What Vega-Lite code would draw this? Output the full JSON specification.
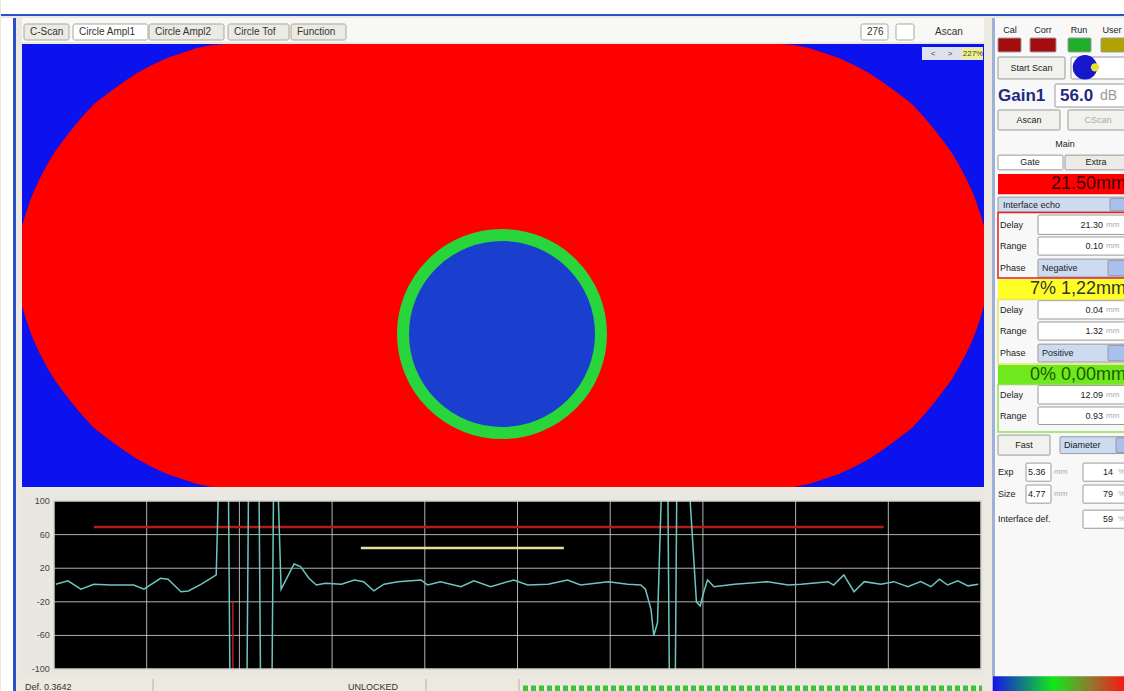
{
  "$schema": "https://vega.github.io/schema/vega-lite/v6.json",
  "background": "#ebe9e2",
  "padding": 0,
  "spacing": 0,
  "config": {"view": {"stroke": null}, "font": "Liberation Sans"},
  "resolve": {"scale": {"fill": "independent", "stroke": "independent", "color": "independent"}},
  "datasets": {
    "stadium": [{"u":0,"top":182,"bottom":262},{"u":4,"top":169,"bottom":275},{"u":8,"top":157,"bottom":287},{"u":12,"top":147,"bottom":297},{"u":18,"top":134,"bottom":310},{"u":25,"top":121,"bottom":323},{"u":32,"top":109,"bottom":335},{"u":40,"top":98,"bottom":346},{"u":50,"top":85,"bottom":359},{"u":60,"top":73,"bottom":371},{"u":72,"top":60,"bottom":384},{"u":85,"top":50,"bottom":394},{"u":100,"top":39,"bottom":405},{"u":115,"top":29,"bottom":415},{"u":130,"top":21,"bottom":423},{"u":145,"top":14,"bottom":430},{"u":160,"top":9,"bottom":435},{"u":175,"top":4,"bottom":440},{"u":190,"top":1,"bottom":443},{"u":205,"top":0,"bottom":443},{"u":757,"top":0,"bottom":443},{"u":772,"top":1,"bottom":443},{"u":787,"top":4,"bottom":440},{"u":802,"top":9,"bottom":435},{"u":817,"top":14,"bottom":430},{"u":832,"top":21,"bottom":423},{"u":847,"top":29,"bottom":415},{"u":862,"top":39,"bottom":405},{"u":877,"top":50,"bottom":394},{"u":890,"top":60,"bottom":384},{"u":902,"top":73,"bottom":371},{"u":912,"top":85,"bottom":359},{"u":922,"top":98,"bottom":346},{"u":930,"top":109,"bottom":335},{"u":937,"top":121,"bottom":323},{"u":944,"top":134,"bottom":310},{"u":950,"top":147,"bottom":297},{"u":954,"top":157,"bottom":287},{"u":958,"top":169,"bottom":275},{"u":962,"top":182,"bottom":262}],
    "flaw": [{"u":480,"v":290}],
    "widget": [{"part":"frame","u0":900,"u1":961,"v0":3,"v1":16},{"part":"zoom","u0":940,"u1":961,"v0":4,"v1":15}],
    "widgetText": [{"label":"<","u":911,"v":9.5},{"label":">","u":928,"v":9.5},{"label":"227%","u":951,"v":9.5}],
    "ascan": [{"t":2,"a":1},{"t":15,"a":5},{"t":29,"a":-5},{"t":43,"a":1},{"t":61,"a":0},{"t":86,"a":0},{"t":97,"a":-5},{"t":115,"a":8},{"t":123,"a":7},{"t":137,"a":-8},{"t":145,"a":-7},{"t":159,"a":1},{"t":169,"a":8},{"t":175,"a":12},{"t":178,"a":140},{"t":188,"a":140},{"t":190,"a":-140},{"t":208,"a":-140},{"t":210,"a":140},{"t":221,"a":140},{"t":223,"a":-140},{"t":235,"a":-140},{"t":237,"a":140},{"t":241,"a":140},{"t":245,"a":-5},{"t":252,"a":10},{"t":259,"a":25},{"t":266,"a":22},{"t":275,"a":8},{"t":283,"a":0},{"t":293,"a":2},{"t":310,"a":1},{"t":324,"a":6},{"t":334,"a":4},{"t":345,"a":-7},{"t":356,"a":1},{"t":371,"a":4},{"t":396,"a":6},{"t":403,"a":0},{"t":417,"a":4},{"t":439,"a":-2},{"t":453,"a":5},{"t":471,"a":-2},{"t":496,"a":6},{"t":511,"a":0},{"t":533,"a":1},{"t":554,"a":6},{"t":568,"a":0},{"t":598,"a":4},{"t":619,"a":1},{"t":633,"a":0},{"t":638,"a":-5},{"t":644,"a":-29},{"t":647,"a":-60},{"t":651,"a":-45},{"t":656,"a":140},{"t":662,"a":140},{"t":664,"a":-140},{"t":670,"a":-140},{"t":672,"a":140},{"t":684,"a":140},{"t":693,"a":-20},{"t":697,"a":-25},{"t":701,"a":-8},{"t":705,"a":6},{"t":712,"a":-2},{"t":734,"a":1},{"t":770,"a":4},{"t":792,"a":0},{"t":806,"a":1},{"t":835,"a":4},{"t":841,"a":0},{"t":852,"a":12},{"t":863,"a":-8},{"t":874,"a":4},{"t":892,"a":1},{"t":906,"a":4},{"t":921,"a":-2},{"t":935,"a":4},{"t":946,"a":-2},{"t":955,"a":7},{"t":964,"a":0},{"t":975,"a":5},{"t":986,"a":-1},{"t":997,"a":1}],
    "graticule": [{"dir":"h","value":60},{"dir":"h","value":20},{"dir":"h","value":-20},{"dir":"h","value":-60},{"dir":"v","value":100},{"dir":"v","value":200},{"dir":"v","value":300},{"dir":"v","value":400},{"dir":"v","value":500},{"dir":"v","value":600},{"dir":"v","value":700},{"dir":"v","value":800},{"dir":"v","value":900}],
    "amplitudeLabels": [{"value":100,"label":"100"},{"value":60,"label":"60"},{"value":20,"label":"20"},{"value":-20,"label":"-20"},{"value":-60,"label":"-60"},{"value":-100,"label":"-100"}],
    "screen": [{"screen":"A-scan","t0":0,"t1":1000,"a0":-100,"a1":100}],
    "bezel": [{"band":"top","t0":0,"t1":1003.2,"a0":100,"a1":114.3},{"band":"bottom","t0":0,"t1":1003.2,"a0":-108.3,"a1":-100}],
    "gates": [{"gate":"interface","start":43,"end":895,"level":69},{"gate":"flaw","start":331,"end":550,"level":44}],
    "marker": [{"t":193,"from":-20,"to":-100}],
    "toolbar": [{"label":"C-Scan","kind":"tab","start":2,"end":47},{"label":"Circle Ampl1","kind":"tab-on","start":51,"end":126},{"label":"Circle Ampl2","kind":"tab","start":127,"end":202},{"label":"Circle Tof","kind":"tab","start":206,"end":267},{"label":"Function","kind":"tab","start":269,"end":324},{"label":"276","kind":"box","start":839,"end":866},{"label":"","kind":"check","start":874,"end":892},{"label":"Ascan","kind":"plain","start":907,"end":955}],
    "statusbar": [{"label":"Def.  0.3642","kind":"text","start":3},{"label":"UNLOCKED","kind":"text","start":326},{"label":"","kind":"separator","start":131},{"label":"","kind":"separator","start":404},{"label":"","kind":"separator","start":497},{"label":"","kind":"progress","start":501,"end":960}],
    "panelBoxes": [
      {"role":"led-cal","col0":6,"col1":29,"row0":0.95,"row1":1.61},
      {"role":"led-corr","col0":38,"col1":64,"row0":0.95,"row1":1.61},
      {"role":"led-run","col0":76,"col1":99,"row0":0.95,"row1":1.61},
      {"role":"led-user","col0":109,"col1":135,"row0":0.95,"row1":1.61},
      {"role":"button","col0":6,"col1":73,"row0":1.85,"row1":2.89},
      {"role":"field","col0":79,"col1":135,"row0":1.85,"row1":2.89},
      {"role":"field","col0":63,"col1":135,"row0":3.13,"row1":4.22},
      {"role":"button","col0":6,"col1":68,"row0":4.36,"row1":5.31},
      {"role":"button","col0":76,"col1":135,"row0":4.36,"row1":5.31},
      {"role":"tab-on","col0":6,"col1":71,"row0":6.5,"row1":7.2},
      {"role":"tab-off","col0":73,"col1":135,"row0":6.5,"row1":7.2},
      {"role":"header-red","col0":6,"col1":135,"row0":7.4,"row1":8.35},
      {"role":"dropdown","col0":6,"col1":135,"row0":8.49,"row1":9.2},
      {"role":"arrow","col0":118,"col1":133,"row0":8.55,"row1":9.14},
      {"role":"frame-red","col0":6,"col1":135,"row0":9.22,"row1":12.33},
      {"role":"field","col0":46,"col1":133,"row0":9.34,"row1":10.26},
      {"role":"field","col0":46,"col1":133,"row0":10.38,"row1":11.24},
      {"role":"dropdown","col0":46,"col1":135,"row0":11.43,"row1":12.28},
      {"role":"arrow","col0":116,"col1":133,"row0":11.49,"row1":12.22},
      {"role":"header-yellow","col0":6,"col1":135,"row0":12.38,"row1":13.32},
      {"role":"frame-yellow","col0":6,"col1":135,"row0":13.34,"row1":16.4},
      {"role":"field","col0":46,"col1":133,"row0":13.4,"row1":14.27},
      {"role":"field","col0":46,"col1":133,"row0":14.41,"row1":15.27},
      {"role":"dropdown","col0":46,"col1":135,"row0":15.46,"row1":16.31},
      {"role":"arrow","col0":116,"col1":133,"row0":15.52,"row1":16.25},
      {"role":"header-green","col0":6,"col1":135,"row0":16.45,"row1":17.37},
      {"role":"frame-green","col0":6,"col1":135,"row0":17.38,"row1":19.63},
      {"role":"field","col0":46,"col1":133,"row0":17.42,"row1":18.3},
      {"role":"field","col0":46,"col1":133,"row0":18.44,"row1":19.27},
      {"role":"button","col0":6,"col1":58,"row0":19.77,"row1":20.72},
      {"role":"dropdown","col0":68,"col1":135,"row0":19.85,"row1":20.65},
      {"role":"arrow","col0":124,"col1":135,"row0":19.9,"row1":20.6},
      {"role":"field","col0":34,"col1":59,"row0":21.1,"row1":21.96},
      {"role":"field","col0":91,"col1":134,"row0":21.1,"row1":21.96},
      {"role":"field","col0":34,"col1":59,"row0":22.14,"row1":23.0},
      {"role":"field","col0":91,"col1":134,"row0":22.14,"row1":23.0},
      {"role":"field","col0":91,"col1":134,"row0":23.33,"row1":24.19}
    ],
    "panelText": [
      {"label":"Cal","style":"center","col":18,"row":0.57},
      {"label":"Corr","style":"center","col":51,"row":0.57},
      {"label":"Run","style":"center","col":87,"row":0.57},
      {"label":"User","style":"center","col":120,"row":0.57},
      {"label":"Start Scan","style":"center","col":39.5,"row":2.37},
      {"label":"Gain1","style":"gain","col":6,"row":3.72},
      {"label":"56.0","style":"gain","col":68,"row":3.72},
      {"label":"dB","style":"gainunit","col":108,"row":3.72},
      {"label":"Ascan","style":"center","col":37,"row":4.84},
      {"label":"CScan","style":"disabled","col":106,"row":4.84},
      {"label":"Main","style":"center","col":73,"row":5.97},
      {"label":"Gate","style":"center","col":38,"row":6.85},
      {"label":"Extra","style":"center","col":104,"row":6.85},
      {"label":"21.50mm","style":"header-red","col":134,"row":7.88},
      {"label":"Interface echo","style":"label","col":11,"row":8.85},
      {"label":"Delay","style":"label","col":8,"row":9.8},
      {"label":"21.30","style":"value","col":111,"row":9.8},
      {"label":"mm","style":"unit","col":114,"row":9.8},
      {"label":"Range","style":"label","col":8,"row":10.81},
      {"label":"0.10","style":"value","col":111,"row":10.81},
      {"label":"mm","style":"unit","col":114,"row":10.81},
      {"label":"Phase","style":"label","col":8,"row":11.86},
      {"label":"Negative","style":"label","col":50,"row":11.86},
      {"label":"7% 1,22mm","style":"header-yellow","col":134,"row":12.85},
      {"label":"Delay","style":"label","col":8,"row":13.84},
      {"label":"0.04","style":"value","col":111,"row":13.84},
      {"label":"mm","style":"unit","col":114,"row":13.84},
      {"label":"Range","style":"label","col":8,"row":14.84},
      {"label":"1.32","style":"value","col":111,"row":14.84},
      {"label":"mm","style":"unit","col":114,"row":14.84},
      {"label":"Phase","style":"label","col":8,"row":15.89},
      {"label":"Positive","style":"label","col":50,"row":15.89},
      {"label":"0% 0,00mm","style":"header-green","col":134,"row":16.91},
      {"label":"Delay","style":"label","col":8,"row":17.86},
      {"label":"12.09","style":"value","col":111,"row":17.86},
      {"label":"mm","style":"unit","col":114,"row":17.86},
      {"label":"Range","style":"label","col":8,"row":18.86},
      {"label":"0.93","style":"value","col":111,"row":18.86},
      {"label":"mm","style":"unit","col":114,"row":18.86},
      {"label":"Fast","style":"center","col":32,"row":20.25},
      {"label":"Diameter","style":"label","col":72,"row":20.25},
      {"label":"Exp","style":"label","col":6,"row":21.53},
      {"label":"5.36","style":"label","col":36,"row":21.53},
      {"label":"mm","style":"unit","col":62,"row":21.53},
      {"label":"14","style":"value","col":121,"row":21.53},
      {"label":"%","style":"unit","col":126,"row":21.53},
      {"label":"Size","style":"label","col":6,"row":22.57},
      {"label":"4.77","style":"label","col":36,"row":22.57},
      {"label":"mm","style":"unit","col":62,"row":22.57},
      {"label":"79","style":"value","col":121,"row":22.57},
      {"label":"%","style":"unit","col":126,"row":22.57},
      {"label":"Interface def.","style":"label","col":6,"row":23.76},
      {"label":"59","style":"value","col":121,"row":23.76},
      {"label":"%","style":"unit","col":126,"row":23.76}
    ],
    "palette": [{"item":"colour scale","col0":1,"col1":135,"row0":31.2,"row1":32}],
    "icon": [{"part":"disc","col":93,"row":2.34},{"part":"notch","col":103,"row":2.34}]
  },
  "vconcat": [
    {
      "width": 1124, "height": 16, "view": {"fill": "#ffffff"},
      "data": {"values": [{"border": "window top", "level": 1}]},
      "mark": {"type": "rule", "color": "#2b4fc6", "strokeWidth": 2},
      "encoding": {"y": {"field": "level", "type": "quantitative", "title": null, "scale": {"domain": [0, 16], "nice": false, "zero": false}, "axis": null}}
    },
    {
      "spacing": 6,
      "resolve": {"scale": {"fill": "independent", "stroke": "independent", "color": "independent"}},
      "hconcat": [
        {
          "width": 15, "height": 675, "view": {"fill": "#ffffff"},
          "data": {"values": [{"border": "window left", "level": 13.5}]},
          "mark": {"type": "rule", "color": "#2b4fc6", "strokeWidth": 3},
          "encoding": {"x": {"field": "level", "type": "quantitative", "title": null, "scale": {"domain": [0, 15], "nice": false, "zero": false}, "axis": null}}
        },
        {
          "spacing": 2,
          "resolve": {"scale": {"fill": "independent", "stroke": "independent", "color": "independent"}},
          "vconcat": [
            {
              "width": 962, "height": 24, "view": {"fill": "#f8f8f6"},
              "data": {"name": "toolbar"},
              "layer": [
                {
                  "transform": [{"filter": "datum.kind != 'plain'"}],
                  "mark": {"type": "rect", "stroke": "#a8a8a0", "strokeWidth": 1, "cornerRadius": 2},
                  "encoding": {
                    "x": {"field": "start", "type": "quantitative", "title": null, "scale": {"domain": [0, 962], "nice": false, "zero": false}, "axis": null},
                    "x2": {"field": "end"},
                    "y": {"datum": 6, "type": "quantitative", "title": null, "scale": {"domain": [0, 24], "reverse": true, "nice": false, "zero": false}, "axis": null},
                    "y2": {"datum": 22},
                    "fill": {"field": "kind", "type": "nominal", "scale": {"domain": ["tab", "tab-on", "box", "check"], "range": ["#ebeae3", "#ffffff", "#ffffff", "#ffffff"]}, "legend": null}
                  }
                },
                {
                  "mark": {"type": "text", "align": "left", "baseline": "middle", "dx": 6, "fontSize": 10, "color": "#333333"},
                  "encoding": {
                    "x": {"field": "start", "type": "quantitative", "title": null},
                    "y": {"datum": 14, "type": "quantitative", "title": null},
                    "text": {"field": "label"}
                  }
                }
              ]
            },
            {
              "width": 962, "height": 443, "view": {"fill": "#0b12ee"},
              "layer": [
                {
                  "data": {"name": "stadium"},
                  "mark": {"type": "area", "color": "#ff0000", "clip": true, "interpolate": "linear"},
                  "encoding": {
                    "x": {"field": "u", "type": "quantitative", "title": null, "scale": {"domain": [0, 962], "nice": false, "zero": false}, "axis": null},
                    "y": {"field": "top", "type": "quantitative", "title": null, "scale": {"domain": [0, 443], "reverse": true, "nice": false, "zero": false}, "axis": null},
                    "y2": {"field": "bottom"}
                  }
                },
                {
                  "data": {"name": "flaw"},
                  "mark": {"type": "point", "shape": "circle", "filled": true, "fill": "#1a3fce", "stroke": "#28d63c", "strokeWidth": 12, "size": 39204, "opacity": 1, "fillOpacity": 1, "strokeOpacity": 1},
                  "encoding": {
                    "x": {"field": "u", "type": "quantitative", "title": null},
                    "y": {"field": "v", "type": "quantitative", "title": null}
                  }
                },
                {
                  "data": {"name": "widget"},
                  "mark": {"type": "rect"},
                  "encoding": {
                    "x": {"field": "u0", "type": "quantitative", "title": null},
                    "x2": {"field": "u1"},
                    "y": {"field": "v0", "type": "quantitative", "title": null},
                    "y2": {"field": "v1"},
                    "fill": {"field": "part", "type": "nominal", "scale": {"domain": ["frame", "zoom"], "range": ["#dde2ee", "#f3ef8c"]}, "legend": null}
                  }
                },
                {
                  "data": {"name": "widgetText"},
                  "mark": {"type": "text", "align": "center", "baseline": "middle", "fontSize": 8, "color": "#334455"},
                  "encoding": {
                    "x": {"field": "u", "type": "quantitative", "title": null},
                    "y": {"field": "v", "type": "quantitative", "title": null},
                    "text": {"field": "label"}
                  }
                }
              ]
            },
            {
              "width": 962, "height": 187, "view": {"fill": "#e9e7df"},
              "layer": [
                {
                  "data": {"name": "screen"},
                  "mark": {"type": "rect", "color": "#000000"},
                  "encoding": {
                    "x": {"field": "t0", "type": "quantitative", "title": null, "scale": {"domain": [-34.5, 1003.2], "nice": false, "zero": false}, "axis": null},
                    "x2": {"field": "t1"},
                    "y": {"field": "a0", "type": "quantitative", "title": null, "scale": {"domain": [-108.3, 114.3], "nice": false, "zero": false}, "axis": null},
                    "y2": {"field": "a1"}
                  }
                },
                {
                  "data": {"name": "graticule"},
                  "transform": [{"filter": "datum.dir == 'h'"}],
                  "mark": {"type": "rule", "color": "#cfcfcf", "strokeWidth": 1, "opacity": 0.85},
                  "encoding": {
                    "x": {"datum": 0, "type": "quantitative"},
                    "x2": {"datum": 1000},
                    "y": {"field": "value", "type": "quantitative", "title": null}
                  }
                },
                {
                  "data": {"name": "graticule"},
                  "transform": [{"filter": "datum.dir == 'v'"}],
                  "mark": {"type": "rule", "color": "#cfcfcf", "strokeWidth": 1, "opacity": 0.85},
                  "encoding": {
                    "x": {"field": "value", "type": "quantitative", "title": null},
                    "y": {"datum": -100, "type": "quantitative"},
                    "y2": {"datum": 100}
                  }
                },
                {
                  "data": {"name": "gates"},
                  "mark": {"type": "rule", "strokeWidth": 2.5},
                  "encoding": {
                    "x": {"field": "start", "type": "quantitative", "title": null},
                    "x2": {"field": "end"},
                    "y": {"field": "level", "type": "quantitative", "title": null},
                    "color": {"field": "gate", "type": "nominal", "scale": {"domain": ["interface", "flaw"], "range": ["#b81a1a", "#e6df9c"]}, "legend": null}
                  }
                },
                {
                  "data": {"name": "ascan"},
                  "mark": {"type": "line", "color": "#6cc6be", "strokeWidth": 1.5, "clip": true},
                  "encoding": {
                    "x": {"field": "t", "type": "quantitative", "title": null},
                    "y": {"field": "a", "type": "quantitative", "title": null}
                  }
                },
                {
                  "data": {"name": "marker"},
                  "mark": {"type": "rule", "color": "#c01a1a", "strokeWidth": 1.5},
                  "encoding": {
                    "x": {"field": "t", "type": "quantitative", "title": null},
                    "y": {"field": "from", "type": "quantitative", "title": null},
                    "y2": {"field": "to"}
                  }
                },
                {
                  "data": {"name": "bezel"},
                  "mark": {"type": "rect", "color": "#e9e7df"},
                  "encoding": {
                    "x": {"field": "t0", "type": "quantitative", "title": null},
                    "x2": {"field": "t1"},
                    "y": {"field": "a0", "type": "quantitative", "title": null},
                    "y2": {"field": "a1"}
                  }
                },
                {
                  "data": {"name": "screen"},
                  "mark": {"type": "rect", "filled": false, "stroke": "#d4d4cc", "strokeWidth": 1.5},
                  "encoding": {
                    "x": {"field": "t0", "type": "quantitative", "title": null},
                    "x2": {"field": "t1"},
                    "y": {"field": "a0", "type": "quantitative", "title": null},
                    "y2": {"field": "a1"}
                  }
                },
                {
                  "data": {"name": "amplitudeLabels"},
                  "mark": {"type": "text", "align": "right", "baseline": "middle", "fontSize": 9, "color": "#444444"},
                  "encoding": {
                    "x": {"datum": -4.5, "type": "quantitative"},
                    "y": {"field": "value", "type": "quantitative", "title": null},
                    "text": {"field": "label"}
                  }
                }
              ]
            },
            {
              "width": 962, "height": 15, "view": {"fill": "#ece9df"},
              "data": {"name": "statusbar"},
              "layer": [
                {
                  "transform": [{"filter": "datum.kind == 'progress'"}],
                  "mark": {"type": "rule", "color": "#3cc43c", "strokeWidth": 7, "strokeDash": [5, 3]},
                  "encoding": {
                    "x": {"field": "start", "type": "quantitative", "title": null, "scale": {"domain": [0, 962], "nice": false, "zero": false}, "axis": null},
                    "x2": {"field": "end"},
                    "y": {"datum": 5, "type": "quantitative", "title": null, "scale": {"domain": [0, 15], "nice": false, "zero": false}, "axis": null}
                  }
                },
                {
                  "transform": [{"filter": "datum.kind == 'separator'"}],
                  "mark": {"type": "rule", "color": "#b4b2aa", "strokeWidth": 1},
                  "encoding": {"x": {"field": "start", "type": "quantitative", "title": null}}
                },
                {
                  "transform": [{"filter": "datum.kind == 'text'"}],
                  "mark": {"type": "text", "align": "left", "baseline": "middle", "fontSize": 9, "color": "#333333"},
                  "encoding": {
                    "x": {"field": "start", "type": "quantitative", "title": null},
                    "y": {"datum": 7, "type": "quantitative", "title": null},
                    "text": {"field": "label"}
                  }
                }
              ]
            }
          ]
        },
        {
          "width": 135, "height": 675, "view": {"fill": "#f8f8f8"},
          "layer": [
            {
              "data": {"values": [{"border": "panel left", "edge": 1.5}]},
              "mark": {"type": "rule", "color": "#9fb2d6", "strokeWidth": 3},
              "encoding": {"x": {"field": "edge", "type": "quantitative", "title": null, "scale": {"domain": [0, 135], "nice": false, "zero": false}, "axis": null}}
            },
            {
              "data": {"name": "panelBoxes"},
              "transform": [{"filter": "indexof(['led-cal','led-corr','led-run','led-user','button','field','tab-on','tab-off','dropdown','arrow'], datum.role) >= 0"}],
              "mark": {"type": "rect", "stroke": "#999999", "strokeWidth": 1, "cornerRadius": 1},
              "encoding": {
                "x": {"field": "col0", "type": "quantitative", "title": null},
                "x2": {"field": "col1"},
                "y": {"field": "row0", "type": "quantitative", "title": null, "scale": {"domain": [0, 32], "reverse": true, "nice": false, "zero": false}, "axis": null},
                "y2": {"field": "row1"},
                "fill": {"field": "role", "type": "nominal", "legend": null, "scale": {
                  "domain": ["led-cal", "led-corr", "led-run", "led-user", "button", "field", "tab-on", "tab-off", "dropdown", "arrow"],
                  "range": ["#a40d0d", "#a40d0d", "#1fae2a", "#b0a300", "#f1f1ee", "#ffffff", "#ffffff", "#ecebe6", "#cddbf1", "#a9c0ee"]}}
              }
            },
            {
              "data": {"name": "panelBoxes"},
              "transform": [{"filter": "datum.role == 'header-red'"}],
              "mark": {"type": "rect", "fill": "#ff0000"},
              "encoding": {"x": {"field": "col0", "type": "quantitative", "title": null}, "x2": {"field": "col1"}, "y": {"field": "row0", "type": "quantitative", "title": null}, "y2": {"field": "row1"}}
            },
            {
              "data": {"name": "panelBoxes"},
              "transform": [{"filter": "datum.role == 'header-yellow'"}],
              "mark": {"type": "rect", "fill": "#ffff26"},
              "encoding": {"x": {"field": "col0", "type": "quantitative", "title": null}, "x2": {"field": "col1"}, "y": {"field": "row0", "type": "quantitative", "title": null}, "y2": {"field": "row1"}}
            },
            {
              "data": {"name": "panelBoxes"},
              "transform": [{"filter": "datum.role == 'header-green'"}],
              "mark": {"type": "rect", "fill": "#6fe81e"},
              "encoding": {"x": {"field": "col0", "type": "quantitative", "title": null}, "x2": {"field": "col1"}, "y": {"field": "row0", "type": "quantitative", "title": null}, "y2": {"field": "row1"}}
            },
            {
              "data": {"name": "panelBoxes"},
              "transform": [{"filter": "datum.role == 'frame-red'"}],
              "mark": {"type": "rect", "filled": false, "stroke": "#e02020", "strokeWidth": 1.5},
              "encoding": {"x": {"field": "col0", "type": "quantitative", "title": null}, "x2": {"field": "col1"}, "y": {"field": "row0", "type": "quantitative", "title": null}, "y2": {"field": "row1"}}
            },
            {
              "data": {"name": "panelBoxes"},
              "transform": [{"filter": "datum.role == 'frame-yellow'"}],
              "mark": {"type": "rect", "filled": false, "stroke": "#e4e460", "strokeWidth": 1.5},
              "encoding": {"x": {"field": "col0", "type": "quantitative", "title": null}, "x2": {"field": "col1"}, "y": {"field": "row0", "type": "quantitative", "title": null}, "y2": {"field": "row1"}}
            },
            {
              "data": {"name": "panelBoxes"},
              "transform": [{"filter": "datum.role == 'frame-green'"}],
              "mark": {"type": "rect", "filled": false, "stroke": "#98dc58", "strokeWidth": 1.5},
              "encoding": {"x": {"field": "col0", "type": "quantitative", "title": null}, "x2": {"field": "col1"}, "y": {"field": "row0", "type": "quantitative", "title": null}, "y2": {"field": "row1"}}
            },
            {
              "data": {"name": "palette"},
              "mark": {"type": "rect", "fill": {"x1": 0, "y1": 0, "x2": 1, "y2": 0, "gradient": "linear", "stops": [{"offset": 0, "color": "#1414ee"}, {"offset": 0.45, "color": "#12e818"}, {"offset": 0.75, "color": "#9a7030"}, {"offset": 1, "color": "#ff1010"}]}},
              "encoding": {
                "x": {"field": "col0", "type": "quantitative", "title": null},
                "x2": {"field": "col1"},
                "y": {"field": "row0", "type": "quantitative", "title": null},
                "y2": {"field": "row1"}
              }
            },
            {
              "data": {"name": "icon"},
              "transform": [{"filter": "datum.part == 'disc'"}],
              "mark": {"type": "point", "shape": "circle", "filled": true, "color": "#1616cc", "size": 600, "opacity": 1},
              "encoding": {"x": {"field": "col", "type": "quantitative", "title": null}, "y": {"field": "row", "type": "quantitative", "title": null}}
            },
            {
              "data": {"name": "icon"},
              "transform": [{"filter": "datum.part == 'notch'"}],
              "mark": {"type": "point", "shape": "circle", "filled": true, "color": "#e8e030", "size": 70, "opacity": 1},
              "encoding": {"x": {"field": "col", "type": "quantitative", "title": null}, "y": {"field": "row", "type": "quantitative", "title": null}}
            },
            {
              "data": {"name": "panelText"},
              "transform": [{"filter": "datum.style == 'label'"}],
              "mark": {"type": "text", "align": "left", "baseline": "middle", "fontSize": 9, "color": "#222222"},
              "encoding": {"x": {"field": "col", "type": "quantitative", "title": null}, "y": {"field": "row", "type": "quantitative", "title": null}, "text": {"field": "label"}}
            },
            {
              "data": {"name": "panelText"},
              "transform": [{"filter": "datum.style == 'value'"}],
              "mark": {"type": "text", "align": "right", "baseline": "middle", "fontSize": 9, "color": "#222222"},
              "encoding": {"x": {"field": "col", "type": "quantitative", "title": null}, "y": {"field": "row", "type": "quantitative", "title": null}, "text": {"field": "label"}}
            },
            {
              "data": {"name": "panelText"},
              "transform": [{"filter": "datum.style == 'unit'"}],
              "mark": {"type": "text", "align": "left", "baseline": "middle", "fontSize": 8, "color": "#aaaaaa"},
              "encoding": {"x": {"field": "col", "type": "quantitative", "title": null}, "y": {"field": "row", "type": "quantitative", "title": null}, "text": {"field": "label"}}
            },
            {
              "data": {"name": "panelText"},
              "transform": [{"filter": "datum.style == 'center'"}],
              "mark": {"type": "text", "align": "center", "baseline": "middle", "fontSize": 9, "color": "#222222"},
              "encoding": {"x": {"field": "col", "type": "quantitative", "title": null}, "y": {"field": "row", "type": "quantitative", "title": null}, "text": {"field": "label"}}
            },
            {
              "data": {"name": "panelText"},
              "transform": [{"filter": "datum.style == 'disabled'"}],
              "mark": {"type": "text", "align": "center", "baseline": "middle", "fontSize": 9, "color": "#aaaaaa"},
              "encoding": {"x": {"field": "col", "type": "quantitative", "title": null}, "y": {"field": "row", "type": "quantitative", "title": null}, "text": {"field": "label"}}
            },
            {
              "data": {"name": "panelText"},
              "transform": [{"filter": "datum.style == 'gain'"}],
              "mark": {"type": "text", "align": "left", "baseline": "middle", "fontSize": 17, "fontWeight": "bold", "color": "#1f2a80"},
              "encoding": {"x": {"field": "col", "type": "quantitative", "title": null}, "y": {"field": "row", "type": "quantitative", "title": null}, "text": {"field": "label"}}
            },
            {
              "data": {"name": "panelText"},
              "transform": [{"filter": "datum.style == 'gainunit'"}],
              "mark": {"type": "text", "align": "left", "baseline": "middle", "fontSize": 14, "color": "#9a9a9a"},
              "encoding": {"x": {"field": "col", "type": "quantitative", "title": null}, "y": {"field": "row", "type": "quantitative", "title": null}, "text": {"field": "label"}}
            },
            {
              "data": {"name": "panelText"},
              "transform": [{"filter": "datum.style == 'header-red'"}],
              "mark": {"type": "text", "align": "right", "baseline": "middle", "fontSize": 18, "color": "#3a0000"},
              "encoding": {"x": {"field": "col", "type": "quantitative", "title": null}, "y": {"field": "row", "type": "quantitative", "title": null}, "text": {"field": "label"}}
            },
            {
              "data": {"name": "panelText"},
              "transform": [{"filter": "datum.style == 'header-yellow'"}],
              "mark": {"type": "text", "align": "right", "baseline": "middle", "fontSize": 18, "color": "#333333"},
              "encoding": {"x": {"field": "col", "type": "quantitative", "title": null}, "y": {"field": "row", "type": "quantitative", "title": null}, "text": {"field": "label"}}
            },
            {
              "data": {"name": "panelText"},
              "transform": [{"filter": "datum.style == 'header-green'"}],
              "mark": {"type": "text", "align": "right", "baseline": "middle", "fontSize": 18, "color": "#1d5a00"},
              "encoding": {"x": {"field": "col", "type": "quantitative", "title": null}, "y": {"field": "row", "type": "quantitative", "title": null}, "text": {"field": "label"}}
            }
          ]
        }
      ]
    }
  ]
}
